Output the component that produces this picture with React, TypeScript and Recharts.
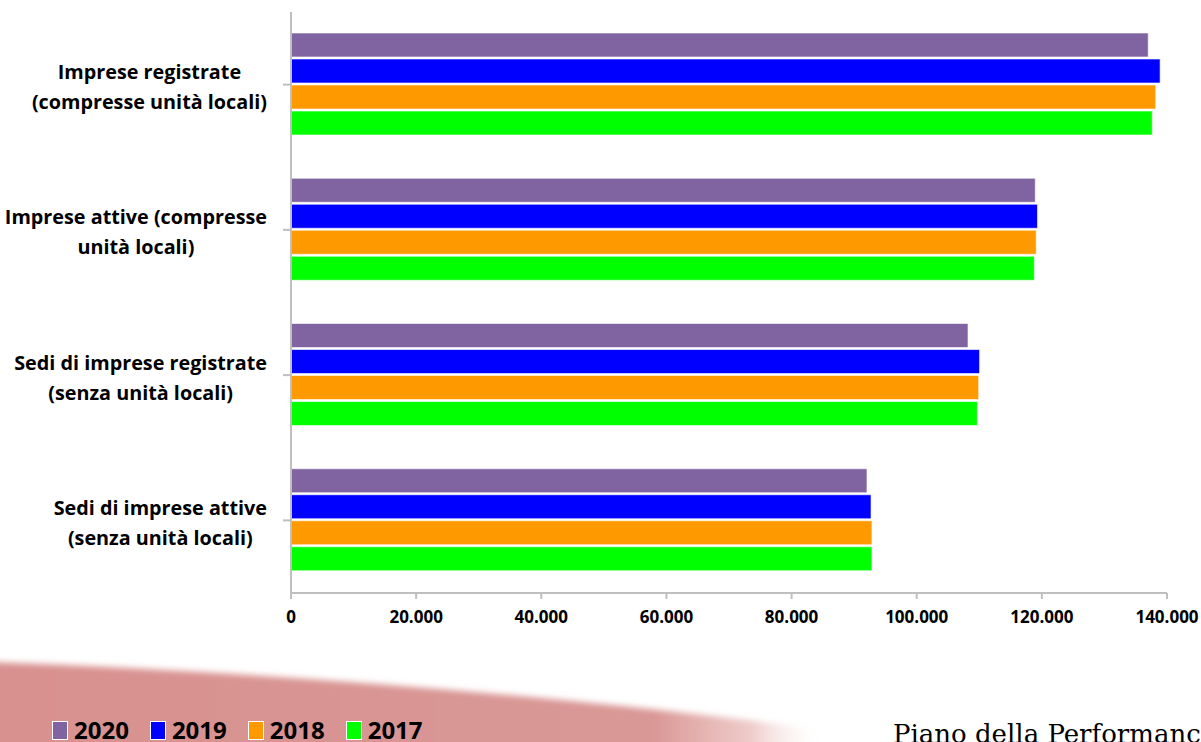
import React from "react";
import { Bar, BarChart, XAxis, YAxis } from "recharts";

// Companies registered / active, yearly comparison
const CATEGORIES = [
  "Imprese registrate\n(compresse unità locali)",
  "Imprese attive (compresse\nunità locali)",
  "Sedi di imprese registrate\n(senza unità locali)",
  "Sedi di imprese attive\n(senza unità locali)",
];
const Y2020 = [137000, 118950, 108200, 92050];
const Y2019 = [138900, 119300, 110050, 92700];
const Y2018 = [138200, 119100, 109900, 92850];
const Y2017 = [137650, 118800, 109700, 92850];
const X_TICKS = [0, 20000, 40000, 60000, 80000, 100000, 120000, 140000];

const SERIES = [
  { key: "y2020", name: "2020", color: "#8064a2", values: Y2020 },
  { key: "y2019", name: "2019", color: "#0000ff", values: Y2019 },
  { key: "y2018", name: "2018", color: "#ff9900", values: Y2018 },
  { key: "y2017", name: "2017", color: "#00ff00", values: Y2017 },
];

const data = CATEGORIES.map((label, i) => {
  const row: Record<string, string | number> = { label };
  SERIES.forEach((s) => (row[s.key] = s.values[i]));
  return row;
});

const FONT = "'Open Sans', Lato, sans-serif";
const AXIS_GREY = "#bfbfbf";
const LABEL_SIZE = 19.8;
const LINE_H = 30;

const fmt = (v: number) => String(v).replace(/\B(?=(\d{3})+(?!\d))/g, ".");

let ctx: CanvasRenderingContext2D | null = null;
function textWidth(s: string) {
  if (!ctx) ctx = document.createElement("canvas").getContext("2d");
  if (!ctx) return s.length * LABEL_SIZE * 0.55;
  ctx.font = `bold ${LABEL_SIZE}px 'Open Sans'`;
  return ctx.measureText(s).width;
}

// multi-line category label: block right-aligned to the axis, lines centred in it
function CategoryTick(props: any) {
  const { x, y, payload } = props;
  const lines: string[] = String(payload.value).split("\n");
  const w = Math.max(...lines.map(textWidth));
  const cx = x - 14 - w / 2;
  const top = y + 2.5 - ((lines.length - 1) * LINE_H) / 2;
  return (
    <text
      x={cx}
      y={top}
      textAnchor="middle"
      fontFamily={FONT}
      fontWeight={700}
      fontSize={LABEL_SIZE}
      fill="#000"
    >
      {lines.map((l, i) => (
        <tspan key={i} x={cx} y={top + i * LINE_H} dy="0.35em">
          {l}
        </tspan>
      ))}
    </text>
  );
}

function Backdrop() {
  return (
    <svg width={1201} height={742} style={{ position: "absolute", left: 0, top: 0 }}>
      <defs>
        <linearGradient id="swoosh" x1="0" y1="0" x2="1" y2="0">
          <stop offset="0" stopColor="#d8918f" />
          <stop offset="0.7" stopColor="#d99896" />
          <stop offset="0.8" stopColor="#e6b4b2" stopOpacity={0.7} />
          <stop offset="0.88" stopColor="#ffffff" stopOpacity={0} />
        </linearGradient>
        <filter id="soft" x="-5%" y="-20%" width="110%" height="140%">
          <feGaussianBlur stdDeviation="3" />
        </filter>
      </defs>
      <path
        d="M -10 662 Q 480 680 940 745 L 940 760 L -10 760 Z"
        fill="url(#swoosh)"
        filter="url(#soft)"
      />
    </svg>
  );
}

export default function App() {
  return (
    <div
      style={{
        position: "absolute",
        left: 0,
        top: 0,
        width: 1201,
        height: 742,
        overflow: "hidden",
        background: "#fff",
      }}
    >
      <Backdrop />
      <div style={{ position: "absolute", left: 0, top: 0 }}>
        <BarChart
          width={1201}
          height={634}
          data={data}
          layout="vertical"
          margin={{ top: 12, right: 34, bottom: 0, left: 0 }}
          barCategoryGap={21}
          barGap={2}
        >
          <XAxis
            type="number"
            domain={[0, 140000]}
            ticks={X_TICKS}
            interval={0}
            tickFormatter={fmt}
            stroke={AXIS_GREY}
            strokeWidth={2}
            tickSize={6}
            height={41}
            tick={{ fill: "#000", fontFamily: FONT, fontWeight: 700, fontSize: 17 }}
            tickMargin={12}
          />
          <YAxis
            type="category"
            dataKey="label"
            width={291}
            stroke={AXIS_GREY}
            strokeWidth={2}
            tickSize={8}
            tick={<CategoryTick />}
            interval={0}
          />
          {SERIES.map((s) => (
            <Bar
              key={s.key}
              dataKey={s.key}
              name={s.name}
              fill={s.color}
              stroke="#ffffff"
              strokeOpacity={0.6}
              strokeWidth={1}
              isAnimationActive={false}
            />
          ))}
        </BarChart>
      </div>
      {/* legend */}
      <div
        style={{
          position: "absolute",
          left: 52,
          top: 715,
          display: "flex",
          fontFamily: FONT,
          fontWeight: 700,
          fontSize: 24,
          color: "#000",
          lineHeight: "30px",
        }}
      >
        {SERIES.map((s) => (
          <div key={s.key} style={{ display: "flex", alignItems: "center", marginRight: 21 }}>
            <span
              style={{
                width: 14,
                height: 17,
                background: s.color,
                border: "1px solid #fff",
                marginRight: 6,
                display: "inline-block",
              }}
            />
            {s.name}
          </div>
        ))}
      </div>
      <svg width={1201} height={742} style={{ position: "absolute", left: 0, top: 0 }}>
        <text x={893} y={743} fontFamily="'DejaVu Serif', serif" fontSize={26} fill="#000">
          Piano della Performance
        </text>
      </svg>
    </div>
  );
}
